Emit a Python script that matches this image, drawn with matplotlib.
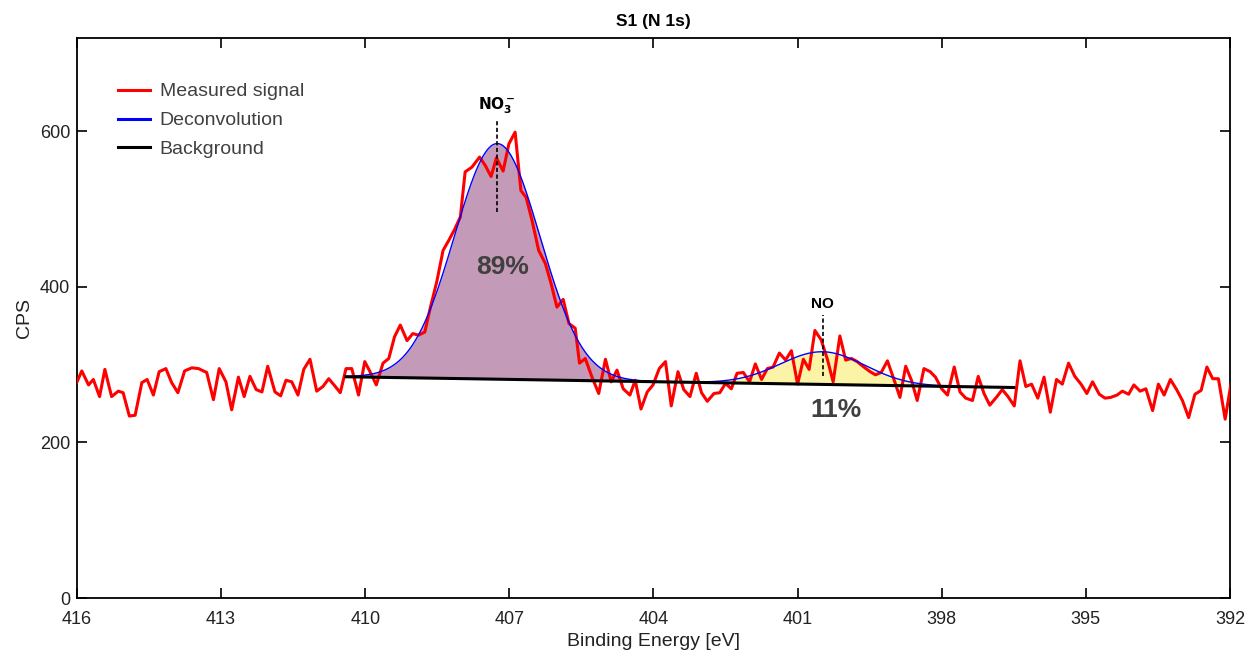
import matplotlib.pyplot as plt
import numpy as np

plt.rcParams['font.family'] = ['Liberation Sans', 'DejaVu Sans']

# measured N 1s signal (binding energy [eV], CPS)
energy = [416.00, 415.90, 415.76, 415.66, 415.53, 415.42, 415.28, 415.14, 415.04, 414.91,
          414.79, 414.65, 414.54, 414.41, 414.29, 414.15, 414.03, 413.90, 413.76, 413.61,
          413.47, 413.30, 413.16, 413.04, 412.90, 412.78, 412.64, 412.52, 412.40, 412.27,
          412.15, 412.03, 411.88, 411.76, 411.65, 411.53, 411.40, 411.28, 411.15, 411.01,
          410.88, 410.76, 410.65, 410.52, 410.40, 410.28, 410.14, 410.01, 409.90, 409.77,
          409.63, 409.51, 409.39, 409.27, 409.13, 409.01, 408.89, 408.76, 408.65, 408.51,
          408.38, 408.26, 408.14, 408.02, 407.92, 407.78, 407.62, 407.50, 407.38, 407.27,
          407.13, 407.01, 406.88, 406.76, 406.65, 406.53, 406.39, 406.25, 406.13, 406.01,
          405.88, 405.76, 405.63, 405.54, 405.42, 405.28, 405.14, 405.00, 404.88, 404.76,
          404.63, 404.49, 404.38, 404.26, 404.13, 404.01, 403.88, 403.75, 403.63, 403.49,
          403.37, 403.24, 403.11, 403.00, 402.88, 402.74, 402.62, 402.50, 402.38, 402.26,
          402.13, 402.00, 401.88, 401.75, 401.63, 401.51, 401.38, 401.25, 401.13, 401.00,
          400.88, 400.76, 400.64, 400.51, 400.38, 400.26, 400.12, 400.00, 399.88, 399.76,
          399.62, 399.49, 399.38, 399.26, 399.13, 399.00, 398.87, 398.75, 398.63, 398.51,
          398.37, 398.24, 398.13, 398.00, 397.88, 397.74, 397.62, 397.50, 397.36, 397.24,
          397.12, 397.00, 396.85, 396.74, 396.62, 396.49, 396.37, 396.25, 396.13, 396.00,
          395.87, 395.74, 395.61, 395.49, 395.36, 395.23, 395.10, 394.98, 394.86, 394.72,
          394.60, 394.48, 394.35, 394.24, 394.11, 394.00, 393.87, 393.75, 393.61, 393.49,
          393.37, 393.24, 393.11, 392.99, 392.86, 392.73, 392.60, 392.48, 392.36, 392.24,
          392.10, 391.98]
cps = [278, 292, 274, 281, 259, 294, 259, 266, 264, 234,
       235, 277, 281, 261, 291, 295, 277, 264, 292, 296,
       295, 290, 255, 295, 278, 242, 284, 259, 285, 268,
       265, 298, 265, 260, 280, 278, 261, 294, 307, 266,
       272, 282, 274, 264, 295, 295, 261, 304, 291, 274,
       302, 308, 336, 351, 331, 340, 338, 342, 372, 407,
       447, 460, 474, 490, 548, 554, 567, 556, 542, 566,
       549, 584, 599, 524, 515, 486, 447, 430, 404, 374,
       384, 353, 347, 302, 308, 284, 263, 307, 278, 293,
       269, 261, 280, 243, 265, 274, 295, 304, 247, 291,
       268, 259, 289, 264, 253, 263, 264, 276, 269, 289,
       290, 278, 301, 281, 295, 297, 315, 306, 318, 275,
       307, 294, 344, 332, 307, 278, 337, 306, 308, 304,
       297, 291, 287, 290, 305, 282, 258, 298, 280, 254,
       295, 291, 284, 269, 261, 297, 265, 257, 254, 285,
       263, 248, 259, 268, 259, 247, 305, 272, 275, 257,
       284, 239, 281, 275, 302, 285, 275, 263, 278, 262,
       257, 258, 261, 266, 262, 274, 266, 269, 241, 275,
       261, 281, 268, 254, 232, 262, 267, 297, 282, 282,
       230, 275]

# linear background end points
bg_energy = [410.4, 396.5]
bg_cps = [284.5, 270.7]

# fitted components: NO3- and NO
peak_centers = [407.25, 400.48]
peak_heights = [303, 42]
peak_sigmas = [0.89, 0.88]
peak_shares = ['89%', '11%']
peak_colors = ['#c49ab9', '#fbf3a6']

e_fit = np.linspace(bg_energy[0], bg_energy[1], 600)
bg = np.interp(e_fit, bg_energy[::-1], bg_cps[::-1])
comps = [h * np.exp(-(e_fit - c)**2 / (2 * s**2))
         for c, h, s in zip(peak_centers, peak_heights, peak_sigmas)]
total = bg + comps[0] + comps[1]

fig = plt.figure(figsize=(12.52, 6.57), dpi=100)
ax = fig.add_axes([0.0615, 0.0898, 0.9209, 0.8522])

for comp, col in zip(comps, peak_colors):
    ax.fill_between(e_fit, bg, bg + comp, color=col, lw=0, zorder=1)

ax.plot(energy, cps, color='red', lw=2.2, label='Measured signal', zorder=3)
ax.plot(e_fit, total, color='blue', lw=1.0, label='Deconvolution', zorder=4)
ax.plot(bg_energy, bg_cps, color='black', lw=2.2, label='Background', zorder=5)

# peak labels with dashed markers
ax.plot([peak_centers[0]] * 2, [496, 614], 'k--', lw=1.2, dashes=(2.5, 1.5), zorder=6)
ax.plot([peak_centers[1]] * 2, [286, 364], 'k--', lw=1.2, dashes=(2.5, 1.5), zorder=6)
ax.text(peak_centers[0], 620, r'$\mathbf{NO_3^-}$', ha='center', va='bottom', fontsize=11)
ax.text(peak_centers[1], 369, 'NO', ha='center', va='bottom', fontsize=11, fontweight='bold')
ax.text(407.15, 426, peak_shares[0], ha='center', va='center', fontsize=19,
        fontweight='bold', color='#404040')
ax.text(400.2, 242, peak_shares[1], ha='center', va='center', fontsize=19,
        fontweight='bold', color='#404040')

ax.set_xlim(416, 392)
ax.set_ylim(0, 720)
ax.set_xticks(np.arange(416, 391, -3))
ax.set_yticks([0, 200, 400, 600])
ax.tick_params(direction='in', length=7, width=1.2, labelsize=13, top=True, right=True,
               labelcolor='#222222')
ax.tick_params(axis='x', pad=9)
ax.tick_params(axis='y', pad=5)
for sp in ax.spines.values():
    sp.set_linewidth(1.3)

ax.set_xlabel('Binding Energy [eV]', fontsize=14, labelpad=4, color='#222222')
ax.set_ylabel('CPS', fontsize=14, labelpad=5, color='#222222')
ax.set_title('S1 (N 1s)', fontsize=12.5, fontweight='bold', pad=9)

leg = ax.legend(loc='upper left', bbox_to_anchor=(0.0286, 0.934), borderaxespad=0,
                frameon=False, fontsize=14, handlelength=1.65, handletextpad=0.5,
                labelspacing=0.58)
for t in leg.get_texts():
    t.set_color('#404040')
for ln in leg.get_lines():
    ln.set_linewidth(2.2)

fig.savefig('out.png', dpi=100)
